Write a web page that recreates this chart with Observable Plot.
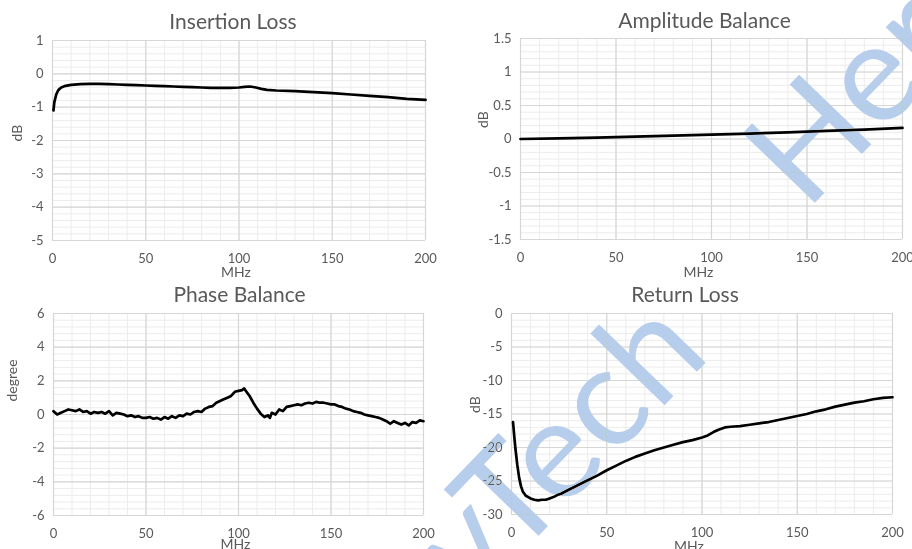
<!DOCTYPE html>
<html>
<head>
<meta charset="utf-8">
<script src="https://cdn.jsdelivr.net/npm/d3@7"></script>
<script src="https://cdn.jsdelivr.net/npm/@observablehq/plot@0.6"></script>
<style>
  html, body { margin: 0; padding: 0; background: #fff; }
  #root { position: relative; width: 912px; height: 549px; overflow: hidden; background: #fff; font-family: Lato, sans-serif; }
  #root svg.panel { position: absolute; }
  #wm { position: absolute; left: 0; top: 0; pointer-events: none; mix-blend-mode: darken; }
</style>
</head>
<body>
<div id="root"></div>
<script>
// ---- Data ----
const xTicks = [0, 50, 100, 150, 200];

const ilFreq = [0.5, 1, 2, 3, 4, 5, 7, 10, 15, 20, 25, 30, 35, 40, 45, 50, 55, 60, 65, 70, 75, 80, 85, 90, 95, 100, 103, 106, 109, 112, 115, 120, 130, 140, 150, 160, 170, 180, 190, 200];
const ilDb = [-1.1, -0.85, -0.62, -0.5, -0.44, -0.4, -0.36, -0.33, -0.31, -0.3, -0.3, -0.31, -0.32, -0.33, -0.34, -0.35, -0.36, -0.37, -0.38, -0.39, -0.4, -0.41, -0.42, -0.42, -0.42, -0.41, -0.39, -0.38, -0.41, -0.45, -0.48, -0.5, -0.52, -0.55, -0.58, -0.62, -0.66, -0.7, -0.75, -0.78];
const ilTicks = [1, 0, -1, -2, -3, -4, -5];

const abFreq = [0, 20, 40, 60, 80, 100, 120, 140, 160, 180, 200];
const abDb = [0.0, 0.01, 0.02, 0.035, 0.05, 0.065, 0.08, 0.1, 0.12, 0.14, 0.165];
const abTicks = [1.5, 1, 0.5, 0, -0.5, -1, -1.5];

const pbFreq = [0, 2, 4, 6, 8, 10, 12, 14, 16, 18, 20, 22, 24, 26, 28, 30, 32, 34, 36, 38, 40, 42, 44, 46, 48, 50, 52, 54, 56, 58, 60, 62, 64, 66, 68, 70, 72, 74, 76, 78, 80, 82, 84, 86, 88, 90, 92, 94, 96, 98, 100, 102, 103, 104, 106, 108, 110, 112, 114, 116, 117, 118, 120, 122, 124, 126, 128, 130, 132, 134, 136, 138, 140, 142, 144, 146, 148, 150, 152, 154, 156, 158, 160, 162, 164, 166, 168, 170, 172, 174, 176, 178, 180, 182, 184, 186, 188, 190, 192, 194, 196, 198, 200];
const pbDeg = [0.2, 0.0, 0.1, 0.2, 0.3, 0.25, 0.2, 0.3, 0.15, 0.2, 0.05, 0.15, 0.1, 0.15, 0.05, 0.2, -0.05, 0.1, 0.05, 0.0, -0.1, -0.05, -0.15, -0.1, -0.2, -0.2, -0.15, -0.25, -0.2, -0.3, -0.15, -0.25, -0.1, -0.2, -0.05, -0.1, 0.05, 0.0, 0.15, 0.2, 0.15, 0.35, 0.45, 0.5, 0.7, 0.8, 0.9, 1.0, 1.1, 1.35, 1.4, 1.45, 1.55, 1.4, 1.1, 0.7, 0.35, 0.05, -0.15, -0.05, -0.2, 0.1, 0.0, 0.3, 0.2, 0.45, 0.5, 0.55, 0.6, 0.55, 0.65, 0.7, 0.65, 0.75, 0.7, 0.7, 0.65, 0.6, 0.6, 0.5, 0.45, 0.35, 0.3, 0.2, 0.15, 0.1, 0.0, -0.05, -0.1, -0.15, -0.2, -0.3, -0.4, -0.55, -0.4, -0.5, -0.6, -0.5, -0.65, -0.45, -0.5, -0.35, -0.4];
const pbTicks = [6, 4, 2, 0, -2, -4, -6];

const rlFreq = [0.8, 1.5, 2, 3, 4, 5, 6, 7.5, 10, 12, 14, 16, 18, 20, 22, 24, 26, 28, 30, 35, 40, 45, 50, 55, 60, 65, 70, 75, 80, 85, 90, 95, 100, 103, 106, 109, 112, 115, 120, 125, 130, 135, 140, 145, 150, 155, 160, 165, 170, 175, 180, 185, 190, 195, 200];
const rlDb = [-16.2, -18.5, -20, -22.5, -24.5, -25.8, -26.6, -27.2, -27.6, -27.8, -27.9, -27.8, -27.8, -27.6, -27.4, -27.1, -26.9, -26.6, -26.3, -25.6, -24.9, -24.2, -23.4, -22.7, -22.0, -21.4, -20.9, -20.4, -20.0, -19.6, -19.2, -18.9, -18.5, -18.2, -17.7, -17.3, -17.0, -16.9, -16.8, -16.6, -16.4, -16.2, -15.9, -15.6, -15.3, -15.0, -14.6, -14.3, -13.9, -13.6, -13.3, -13.1, -12.8, -12.6, -12.5];
const rlTicks = [0, -5, -10, -15, -20, -25, -30];

const titles = ["Insertion Loss", "Amplitude Balance", "Phase Balance", "Return Loss"];
const yLabels = ["dB", "dB", "degree", "dB"];
const xLabel = "MHz";
const watermark = ["HeryTech", "HeryTech"];

// ---- Drawing ----
const root = document.getElementById("root");
const textColor = "#595959";

function panel(cfg) {
  const data = cfg.xs.map((x, i) => ({x, y: cfg.ys[i]}));
  const [ymin, ymax] = [d3.min(cfg.ticks), d3.max(cfg.ticks)];
  const yMinor = d3.range(ymin, ymax + 1e-9, cfg.minor);
  const xMinor = d3.range(0, 201, 10);
  const svg = Plot.plot({
    width: cfg.W, height: cfg.H,
    marginLeft: cfg.ml, marginRight: cfg.mr, marginTop: cfg.mt, marginBottom: cfg.mb,
    style: {fontFamily: "Lato, sans-serif", color: textColor, background: "transparent", overflow: "visible"},
    x: {domain: [0, 200]},
    y: {domain: [ymin, ymax]},
    marks: [
      Plot.ruleX(xMinor, {stroke: "#ececec", strokeWidth: 1}),
      Plot.ruleY(yMinor, {stroke: "#ececec", strokeWidth: 1}),
      Plot.ruleX(xTicks, {stroke: "#d6d6d6", strokeWidth: 1.2}),
      Plot.ruleY(cfg.ticks, {stroke: "#d6d6d6", strokeWidth: 1.2}),
      Plot.axisX({ticks: xTicks, tickSize: 0, tickPadding: 13, fontSize: 13, tickFormat: d => String(d), label: null}),
      Plot.axisY({ticks: cfg.ticks, tickSize: 0, tickPadding: 9, fontSize: 13, tickFormat: d => String(d), label: null}),
      Plot.line(data, {x: "x", y: "y", stroke: "#000", strokeWidth: 2.7, strokeLinejoin: "round"}),
      Plot.text([cfg.title], {frameAnchor: "top", lineAnchor: "middle", dy: cfg.tdy, dx: cfg.tdx, fontSize: 21, fill: textColor}),
      Plot.text([xLabel], {frameAnchor: "bottom", lineAnchor: "middle", dy: cfg.xldy, dx: cfg.xldx, fontSize: 14, fill: textColor}),
      Plot.text([cfg.yLabel], {frameAnchor: "left", lineAnchor: "middle", dx: cfg.yldx, dy: cfg.yldy, rotate: -90, fontSize: 14, fill: textColor})
    ]
  });
  svg.classList.add("panel");
  svg.style.left = cfg.L + "px";
  svg.style.top = cfg.T + "px";
  root.appendChild(svg);
}

panel({xs: ilFreq, ys: ilDb, ticks: ilTicks, minor: 0.2, title: titles[0], yLabel: yLabels[0],
  L: 0, T: 0, W: 450, H: 285, ml: 52, mr: 25, mt: 40, mb: 45,
  tdy: -18, tdx: -6, xldy: 32, xldx: -3, yldx: -35, yldy: 1});
panel({xs: abFreq, ys: abDb, ticks: abTicks, minor: 0.1, title: titles[1], yLabel: yLabels[1],
  L: 450, T: 0, W: 462, H: 285, ml: 70, mr: 10, mt: 38, mb: 46,
  tdy: -17, tdx: -7, xldy: 33, xldx: -13, yldx: -37, yldy: -11});
panel({xs: pbFreq, ys: pbDeg, ticks: pbTicks, minor: 0.4, title: titles[2], yLabel: yLabels[2],
  L: 0, T: 285, W: 450, H: 264, ml: 53, mr: 27, mt: 28, mb: 34,
  tdy: -18, tdx: 1, xldy: 29, xldx: -3, yldx: -41, yldy: -13});
panel({xs: rlFreq, ys: rlDb, ticks: rlTicks, minor: 1, title: titles[3], yLabel: yLabels[3],
  L: 450, T: 285, W: 462, H: 264, ml: 61, mr: 20, mt: 28, mb: 35,
  tdy: -18, tdx: -17, xldy: 32, xldx: -13, yldx: -36, yldy: -1});

// ---- Watermark ----
const ns = "http://www.w3.org/2000/svg";
const wm = document.createElementNS(ns, "svg");
wm.setAttribute("id", "wm");
wm.setAttribute("width", 912);
wm.setAttribute("height", 549);
const wmPos = [[712, 356, "end"], [806, 212, "start"]];
watermark.forEach((t, i) => {
  const el = document.createElementNS(ns, "text");
  el.textContent = t;
  el.setAttribute("transform", `translate(${wmPos[i][0]},${wmPos[i][1]}) rotate(-46)`);
  el.setAttribute("text-anchor", wmPos[i][2]);
  el.setAttribute("font-family", "Lato, sans-serif");
  el.setAttribute("font-weight", 400);
  el.setAttribute("font-size", 140);
  el.setAttribute("fill", "#b7cdec");
  wm.appendChild(el);
});
root.appendChild(wm);
</script>
</body>
</html>
